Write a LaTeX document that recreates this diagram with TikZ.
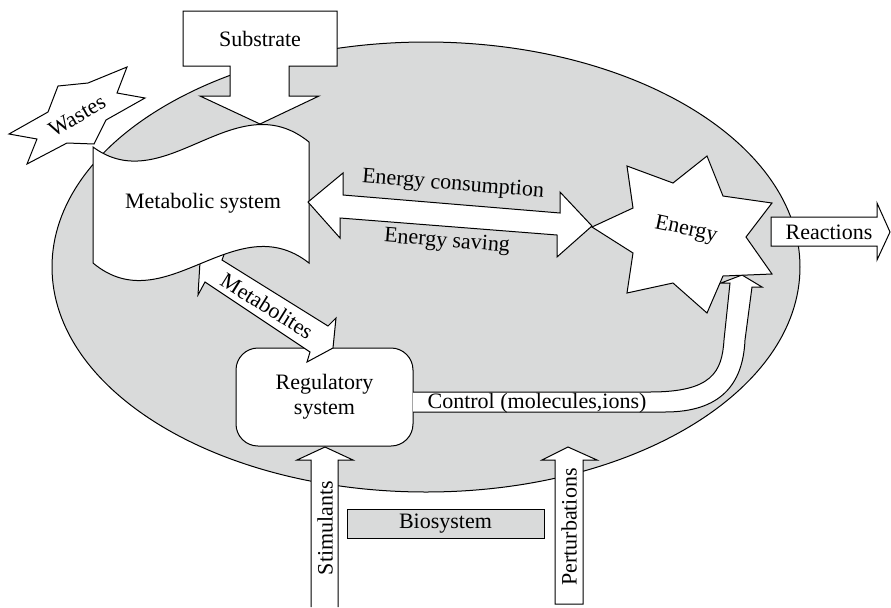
\documentclass[tikz,border=0pt]{standalone}
\usepackage{fontspec}
\setmainfont{Liberation Serif}
\usetikzlibrary{positioning}
\definecolor{biogray}{RGB}{217,218,218}

\begin{document}
\begin{tikzpicture}[x=0.5pt, y=-0.5pt, line width=0.5pt,
  blk/.style={draw, fill=white, line join=miter},
  txt/.style={font=\fontsize{11}{12.5}\selectfont, inner sep=0pt}]
  \useasboundingbox (0,0) rectangle (891,607);

  % cell
  \draw[fill=biogray] (426,267) ellipse [x radius=374, y radius=225];
  \node[txt, draw, fill=biogray, minimum width=98.5pt, minimum height=14.5pt] (bio) at (445.5,523.5) {Biosystem};

  % inputs from below
  \draw[blk] (311,607) -- (311,460) -- (297,460) -- (325,447) -- (353,460) -- (338,460) -- (338,607);
  \draw[blk] (555,604) -- (555,460) -- (542,460) -- (568,447) -- (597,460) -- (583,460) -- (583,604) -- cycle;
  \node[txt, rotate=90] (stimulants) at (325,528) {Stimulants};
  \node[txt, rotate=90] (perturbations) at (569,527) {Perturbations};

  % regulatory system and control
  \node[txt, draw, fill=white, rounded corners=11pt, minimum width=88.5pt, minimum height=49pt, align=center] (reg) at (324.5,397) {Regulatory\\system};
  \draw[blk] (413,392) -- (650,392) .. controls (712,392) and (722,372) .. (724,340) -- (730,283) -- (721,283) -- (742,275) -- (762,287) -- (752,287) -- (745,340) .. controls (743,385) and (720,412) .. (665,412) -- (413,412);
  \node[txt] (control) at (537,403) {Control (molecules,ions)};

  % metabolites
  \draw[blk] (200,262) -- (225,252) -- (222,260) -- (328,326) -- (336,318) -- (333,348) -- (307,362) -- (310,352) -- (205,282) -- (198,295) -- cycle;
  \node[txt, rotate=-32] (metabolites) at (267,306) {Metabolites};

  % wastes
  \draw[blk] (127,67) -- (117,93) -- (145,98) -- (106,120) -- (94,144) -- (67,143) -- (27,164) -- (37,139) -- (9,134) -- (48,112) -- (58,86) -- (88,83) -- cycle;
  \node[txt, rotate=30] (wastes) at (77,116) {Wastes};

  % metabolic system
  \draw[blk] (93,147) .. controls (165,200) and (235,82) .. (309,142) -- (309,263) .. controls (235,205) and (165,323) .. (93,263) -- cycle;
  \node[txt] (metabolic) at (203,203) {Metabolic system};

  % substrate
  \draw[blk] (183,11) -- (337,11) -- (337,66) -- (289,66) -- (289,96) -- (319,96) -- (260,124) -- (200,96) -- (230,96) -- (230,66) -- (183,66) -- cycle;
  \node[txt] (substrate) at (260,39) {Substrate};

  % energy exchange
  \draw[blk] (308,202) -- (343,173) -- (343,195) -- (560,213) -- (560,192) -- (592,226) -- (557,257) -- (557,235) -- (340,218) -- (340,238) -- cycle;
  \node[txt, rotate=-4.5] (consumption) at (453,185) {Energy consumption};
  \node[txt, rotate=-4.5] (saving) at (447,242) {Energy saving};

  % energy
  \draw[blk] (592,227) -- (633,208) -- (627,166) -- (673,183) -- (707,156) -- (723,196) -- (772,203) -- (746,237) -- (772,274) -- (723,276) -- (707,313) -- (673,283) -- (627,293) -- (633,253) -- cycle;
  \node[txt, rotate=-12] (energy) at (686,230) {Energy};

  % reactions
  \draw[blk] (771,217) -- (877,217) -- (877,203) -- (890,232) -- (877,260) -- (877,246) -- (771,246) -- cycle;
  \node[txt] (reactions) at (829,232) {Reactions};
\end{tikzpicture}
\end{document}
